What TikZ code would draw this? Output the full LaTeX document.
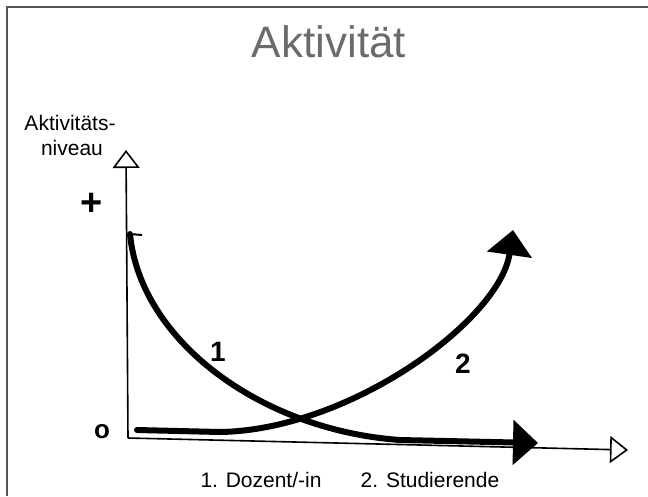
\documentclass[tikz,border=0pt]{standalone}
\usepackage{fontspec}
\setmainfont{Liberation Sans}
\usetikzlibrary{arrows.meta}
\definecolor{titlegray}{HTML}{6E6A6A}
\definecolor{framegray}{HTML}{555555}
\begin{document}
\begin{tikzpicture}[x=1pt,y=-1pt,
  axis/.style={line width=1.6pt, black},
  openhead/.style={-{Triangle[open,length=18pt,width=27pt,line width=1.6pt]}},
  curve/.style={line width=6pt, black, line cap=round, line join=round},
  fullhead/.style={-{Triangle[length=25pt,width=44pt]}},
  lbl/.style={font=\fontsize{21}{24}\selectfont, inner sep=0pt, anchor=base},
  num/.style={font=\fontsize{28}{30}\selectfont\bfseries, inner sep=0pt}]
\useasboundingbox (0,0) rectangle (648,496);
% frame
\draw[framegray, line width=1.5pt] (7,496) -- (7,7) -- (648,7);
% title
\node[inner sep=0pt, anchor=base, text=titlegray, font=\fontsize{44}{50}\selectfont] (title) at (329,57) {Aktivität};
% axis label
\node[lbl] (ylab1) at (70,130) {Aktivitäts-};
\node[lbl] (ylab2) at (72,155) {niveau};
\node[inner sep=0pt, font=\fontsize{38}{40}\selectfont\bfseries] (plus) at (92,204) {+};
\node[inner sep=0pt, font=\fontsize{26}{28}\selectfont\bfseries] (zero) at (102,432) {o};
% axes
\coordinate (origin) at (128,438);
\coordinate (ytip) at (126,150);
\coordinate (xtip) at (628,450);
\draw[axis, openhead] (origin) -- (ytip);
\draw[axis, openhead] (origin) -- (xtip);
% curve 1
\coordinate (c1s) at (130,234);
\coordinate (c1m) at (400,440);
\coordinate (c1e) at (538,443);
\draw[black, line width=2pt] (c1s) -- ++(12,1);
\draw[curve, fullhead] (c1s) .. controls (140,340) and (260,430) .. (c1m) -- (c1e);
% curve 2
\coordinate (c2s) at (137,430);
\coordinate (c2m) at (220,432);
\coordinate (c2e) at (513,230);
\draw[curve, fullhead] (c2s) -- (c2m) .. controls (350,430) and (500,320) .. (c2e);
% curve labels
\node[num] (n1) at (218,352) {1};
\node[num] (n2) at (463,364) {2};
% legend
\node[lbl] (leg1) at (261,487) {1. Dozent/-in};
\node[lbl] (leg2) at (430,487) {2. Studierende};
\end{tikzpicture}
\end{document}
